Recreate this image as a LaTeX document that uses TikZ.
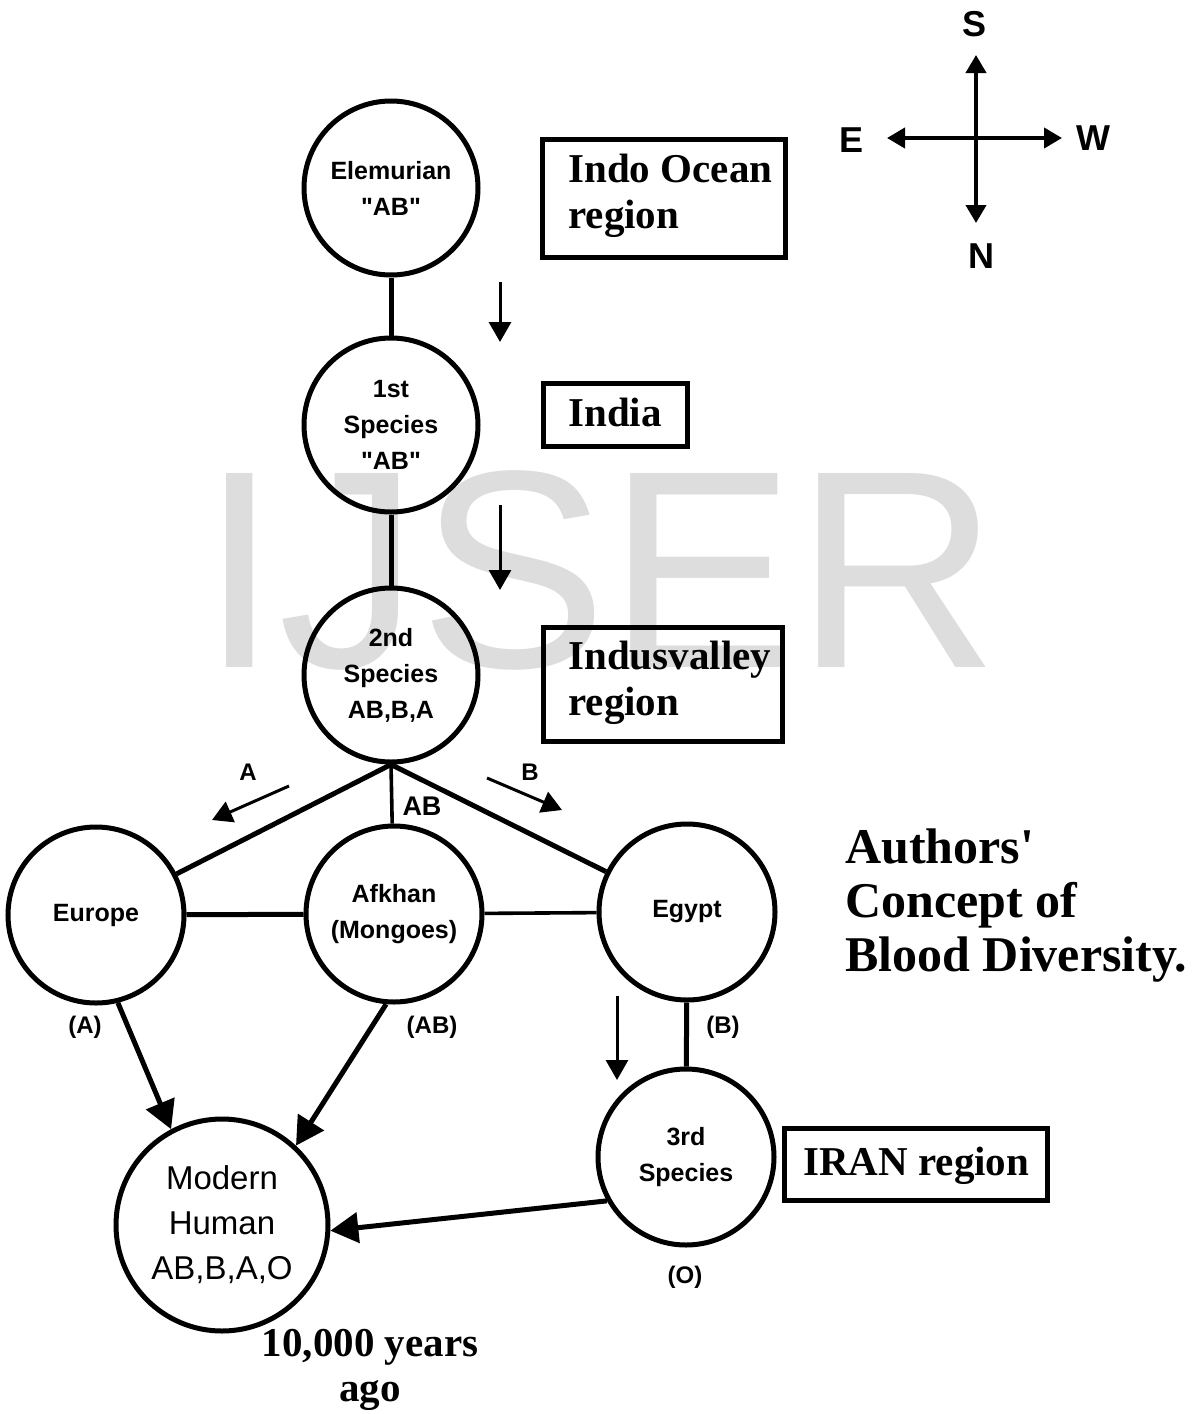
\documentclass[tikz,border=0pt]{standalone}
\usepackage{fontspec}
\newfontfamily\sans{Liberation Sans}
\newfontfamily\serb{Liberation Serif}
\usetikzlibrary{arrows.meta}
\definecolor{wm}{RGB}{221,221,221}
\begin{document}
\begin{tikzpicture}[x=0.5pt,y=-0.5pt,
  circ/.style={circle, draw, line width=2.5pt, inner sep=0pt, minimum size=87pt, align=center,
               font=\sans\bfseries\fontsize{12.5}{18}\selectfont},
  circm/.style={circ, minimum size=88pt},
  box/.style={draw, line width=2.5pt, rectangle, inner sep=0pt},
  boxtxt/.style={anchor=west, align=left, inner sep=0pt, font=\serb\bfseries\fontsize{20.5}{23}\selectfont},
  lbl/.style={inner sep=0pt, font=\sans\bfseries\fontsize{12}{14}\selectfont},
  cmp/.style={inner sep=0pt, font=\sans\bfseries\fontsize{18}{20}\selectfont},
  conn/.style={line width=2.5pt},
  connthin/.style={line width=1.8pt},
  bigarrow/.style={line width=2.5pt, -{Triangle[length=14pt,width=15pt]}},
  smallarrow/.style={line width=1.5pt, -{Triangle[length=10pt,width=11pt]}},
  cmparrow/.style={line width=2pt, -{Triangle[length=9pt,width=10pt]}}
]
\useasboundingbox (0,0) rectangle (1199,1414);
% watermark
\node[text=wm, inner sep=0pt, font=\sans\fontsize{141}{141}\selectfont] (wmk) at (600,570) {IJSER};

% circles
\node[circ] (el) at (391,188) {Elemurian\\"AB"};
\node[circ] (s1) at (391,425) {1st\\Species\\"AB"};
\node[circ] (s2) at (391,675) {2nd\\Species\\AB,B,A};
\node[circm] (eu) at (96,915) {Europe};
\node[circm] (af) at (394,914) {Afkhan\\(Mongoes)};
\node[circm] (eg) at (687,912) {Egypt};
\node[circm] (s3) at (686,1157) {3rd\\Species};
\node[circ, minimum size=106pt, font=\sans\fontsize{16.5}{22.5}\selectfont] (mh) at (222,1225) {Modern\\Human\\AB,B,A,O};

% boxes
\node[box, minimum width=121.5pt, minimum height=59pt] (bio) at (663.5,198) {};
\node[boxtxt] (tio) at (568,196) {Indo Ocean\\region};
\node[box, minimum width=72pt, minimum height=31.5pt] (bin) at (615,414.5) {};
\node[boxtxt] (tin) at (568,412) {India};
\node[box, minimum width=119.5pt, minimum height=57pt] (biv) at (662.5,684) {};
\node[boxtxt] (tiv) at (568,683) {Indusvalley\\region};
\node[box, minimum width=131.5pt, minimum height=36pt] (bir) at (915.5,1164) {};
\node[boxtxt] (tir) at (803,1166) {IRAN region};

% connectors
\draw[conn] (el) -- (s1);
\draw[conn] (s1) -- (s2);
\draw[conn] (s2.south) -- (eu);
\draw[conn] (s2.south) -- (eg);
\draw[connthin] (s2.south) -- (af);
\draw[conn] (eu) -- (af);
\draw[connthin] (af) -- (eg);
\draw[conn] (eg) -- (s3);
\draw[bigarrow] (eu.-76) -- (mh.118);
\draw[bigarrow] (af.-95) -- (mh.47);
\draw[bigarrow] (s3.209) -- (mh.-3);

% direction arrows
\coordinate (d1a) at (500,282); \coordinate (d1b) at (500,342);
\coordinate (d2a) at (500,505); \coordinate (d2b) at (500,590);
\coordinate (aa) at (289,786); \coordinate (ab) at (212,820);
\coordinate (ba) at (487,778); \coordinate (bb) at (562,810);
\coordinate (ea) at (617,996); \coordinate (eb) at (617,1080);
\draw[smallarrow] (d1a) -- (d1b);
\draw[smallarrow] (d2a) -- (d2b);
\draw[smallarrow] (aa) -- (ab);
\draw[smallarrow] (ba) -- (bb);
\draw[smallarrow] (ea) -- (eb);

% labels
\node[lbl] (la) at (248,772) {A};
\node[lbl] (lb) at (530,772) {B};
\node[lbl, font=\sans\bfseries\fontsize{13.5}{15}\selectfont] (lab) at (422,806) {AB};
\node[lbl] (pA) at (85,1027) {(A)};
\node[lbl] (pAB) at (432,1027) {(AB)};
\node[lbl] (pB) at (723,1027) {(B)};
\node[lbl] (pO) at (685,1277) {(O)};

% compass
\coordinate (cc) at (976,138);
\coordinate (cS) at (976,55);
\coordinate (cN) at (976,223);
\coordinate (cE) at (887,138);
\coordinate (cW) at (1062,138);
\draw[cmparrow] (cc) -- (cS);
\draw[cmparrow] (cc) -- (cN);
\draw[cmparrow] (cc) -- (cE);
\draw[cmparrow] (cc) -- (cW);
\node[cmp] (nS) at (974,24) {S};
\node[cmp] (nE) at (851,140) {E};
\node[cmp] (nW) at (1093,138) {W};
\node[cmp] (nN) at (981,256) {N};

% titles
\node[anchor=west, align=left, inner sep=0pt, font=\serb\bfseries\fontsize{25}{27}\selectfont] (title) at (845,906) {Authors'\\Concept of\\Blood Diversity.};
\node[align=center, inner sep=0pt, font=\serb\bfseries\fontsize{20.5}{22.5}\selectfont] (age) at (370,1370) {10,000 years\\ago};
\end{tikzpicture}
\end{document}
